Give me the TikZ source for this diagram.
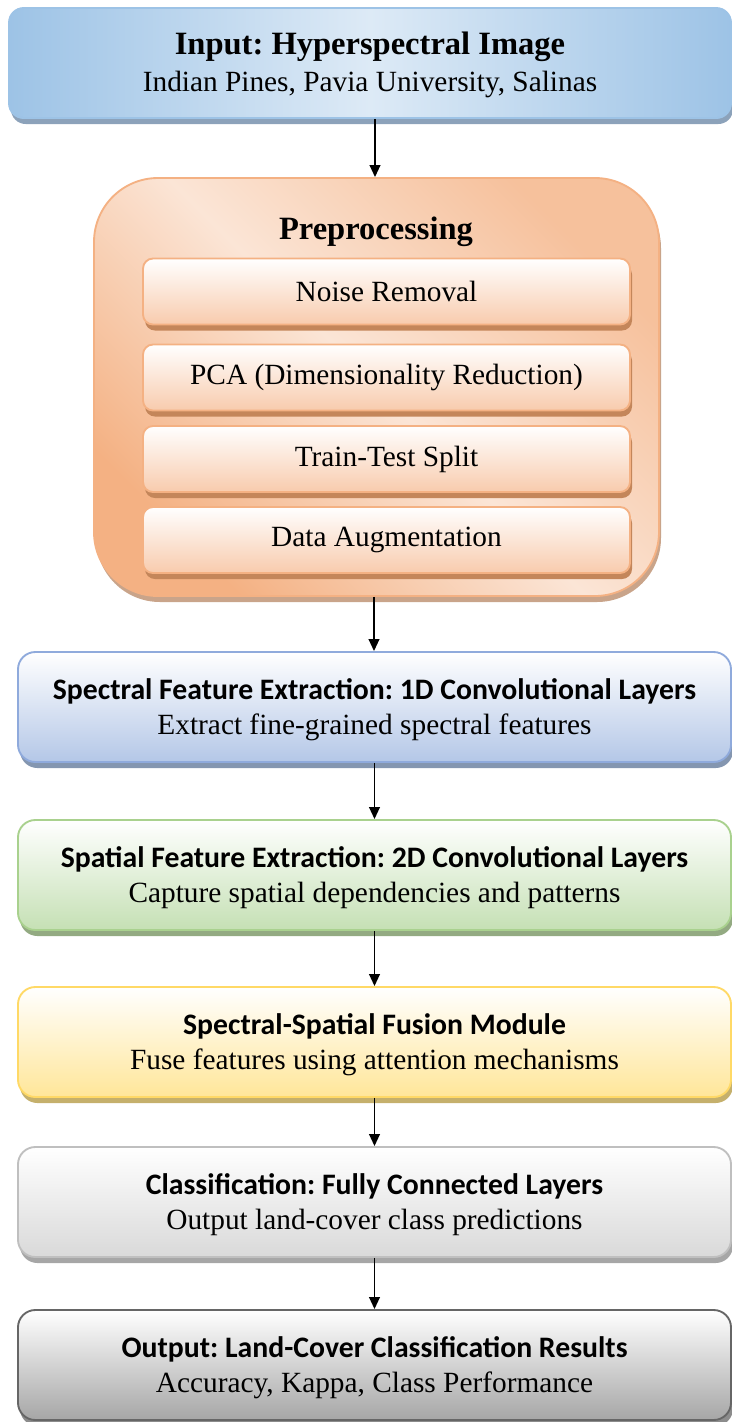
\documentclass[tikz,border=0pt]{standalone}
\usepackage{fontspec}
\setmainfont{Liberation Serif}
\setsansfont{Carlito}
\usetikzlibrary{shadows,arrows.meta,calc}
\frenchspacing
\definecolor{inL}{HTML}{DDEAF6}
\definecolor{inD}{HTML}{9DC3E6}
\definecolor{inS}{HTML}{8CA2BA}
\definecolor{orL}{HTML}{FBE5D6}
\definecolor{orD}{HTML}{F4B183}
\definecolor{orS}{HTML}{C9A48A}
\definecolor{orIn}{HTML}{F8CBAD}
\definecolor{orInS}{HTML}{C4865A}
\definecolor{blB}{HTML}{B4C7E7}
\definecolor{blE}{HTML}{8FAADC}
\definecolor{blS}{HTML}{8496B0}
\definecolor{grB}{HTML}{C5E0B4}
\definecolor{grE}{HTML}{A9D18E}
\definecolor{grS}{HTML}{93AA82}
\definecolor{yeB}{HTML}{FFE699}
\definecolor{yeE}{HTML}{FFD966}
\definecolor{yeS}{HTML}{C5B06C}
\definecolor{gyB}{HTML}{D9D9D9}
\definecolor{gyE}{HTML}{BFBFBF}
\definecolor{gyS}{HTML}{A6A6A6}
\definecolor{dkB}{HTML}{A6A6A6}
\definecolor{dkE}{HTML}{666666}
\definecolor{dkS}{HTML}{8C8C8C}
\newcommand{\ttlfont}{\fontsize{24.4}{28}\selectfont\bfseries}
\newcommand{\stlfont}{\fontsize{22.3}{26.25}\selectfont\sffamily\bfseries}
\newcommand{\topstrut}{\rule{0pt}{19.5pt}}
\begin{document}
\begin{tikzpicture}[x=0.75pt,y=-0.75pt,
  txt/.style={font=\fontsize{22}{26.25}\selectfont},
  box/.style={draw, line width=1.4pt, inner sep=0pt, align=center, txt},
  shad/.style={drop shadow={shadow xshift=1.5pt, shadow yshift=-4.5pt, fill=#1, opacity=1}},
  wide/.style={box, minimum width=534.75pt, minimum height=82.5pt, rounded corners=13pt},
  inner/.style={box, draw=orD, top color=white, bottom color=orIn, minimum width=365.25pt, minimum height=49.5pt, rounded corners=7.5pt, shad=orInS},
  ttl/.style={font=\ttlfont},
  arr/.style={line width=1.4pt, -{Triangle[length=9pt,width=8pt]}}
]
\useasboundingbox (0,0) rectangle (732,1422);

\node[box, draw=inD, left color=inD, right color=inD, middle color=inL, minimum width=541.5pt, minimum height=82.5pt, rounded corners=11pt, shad=inS]
  (input) at (370,63) {{\ttlfont\topstrut Input: Hyperspectral Image}\\[1.5pt] Indian Pines, Pavia University, Salinas};

\node[box, draw=orD, left color=orD, right color=orD!70!orL, middle color=orL, shading angle=135, minimum width=423.75pt, minimum height=313.5pt, rounded corners=48pt, shad=orS]
  (pre) at (376.5,387) {};
\node[ttl] (pretitle) at (376,232) {Preprocessing};
\node[inner] (noise) at (386.5,291.5) {Noise Removal};
\node[inner] (pca) at (386.5,377.5) {PCA (Dimensionality Reduction)};
\node[inner] (split) at (386.5,459) {Train-Test Split};
\node[inner] (aug) at (386.5,540) {Data Augmentation};

\node[wide, draw=blE, top color=white, bottom color=blB, shad=blS] (spec) at (374.5,707)
  {{\stlfont\topstrut Spectral Feature Extraction: 1D Convolutional Layers}\\ Extract fine-grained spectral features};
\node[wide, draw=grE, top color=white, bottom color=grB, shad=grS] (spat) at (374.5,875)
  {{\stlfont\topstrut Spatial Feature Extraction: 2D Convolutional Layers}\\ Capture spatial dependencies and patterns};
\node[wide, draw=yeE, top color=white, bottom color=yeB, shad=yeS] (fuse) at (374.5,1042)
  {{\stlfont\topstrut Spectral-Spatial Fusion Module}\\ Fuse features using attention mechanisms};
\node[wide, draw=gyE, top color=white, bottom color=gyB, shad=gyS] (cls) at (374.5,1202)
  {{\stlfont\topstrut Classification: Fully Connected Layers}\\ Output land-cover class predictions};
\node[wide, draw=dkE, top color=white, bottom color=dkB, shad=dkS] (out) at (374.5,1365)
  {{\stlfont\topstrut Output: Land-Cover Classification Results}\\ Accuracy, Kappa, Class Performance};

\draw[arr] ($(input.south)+(5,0)$) -- ($(pre.north)+(-1.5,0)$);
\draw[arr] ($(pre.south)+(-2.5,0)$) -- ($(spec.north)+(-0.5,0)$);
\draw[arr] (spec.south) -- (spat.north);
\draw[arr] (spat.south) -- (fuse.north);
\draw[arr] (fuse.south) -- (cls.north);
\draw[arr] (cls.south) -- (out.north);
\end{tikzpicture}
\end{document}
